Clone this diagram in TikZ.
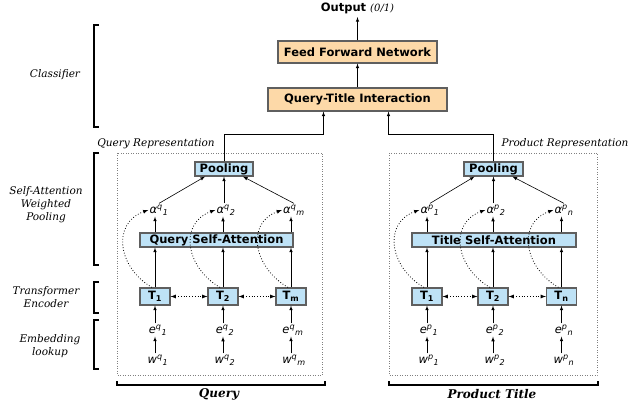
\documentclass[tikz,border=0pt]{standalone}
\usepackage{fontspec}
\setmainfont{DejaVu Serif}
\setsansfont{DejaVu Sans}
\newfontfamily\varfont{DejaVu Sans}
\usetikzlibrary{arrows, calc, fit, positioning}

\definecolor{blockblue}{RGB}{190,226,246}
\definecolor{blockorange}{RGB}{253,217,168}
\definecolor{blockedge}{RGB}{95,95,95}

\tikzset{
  blueblock/.style={draw=blockedge, line width=1.2pt, fill=blockblue, inner sep=0pt,
    font=\sffamily\bfseries\fontsize{11.5}{12}\selectfont},
  orangeblock/.style={draw=blockedge, line width=1.2pt, fill=blockorange, inner sep=0pt,
    font=\sffamily\bfseries\fontsize{11.5}{12}\selectfont},
  var/.style={inner sep=1pt, font=\varfont\itshape\fontsize{11.5}{12}\selectfont},
  sidelabel/.style={align=center, font=\itshape\fontsize{10.5}{13}\selectfont},
  grouplabel/.style={font=\itshape\fontsize{10.5}{12}\selectfont},
  groupbox/.style={draw=gray, dotted, line width=0.5pt},
  bracket/.style={line width=1.4pt},
  attn/.style={->, dotted, line width=0.8pt, looseness=1.3},
}

\newcommand{\vsub}[3]{#1\textsuperscript{#2}\textsubscript{#3}}

\begin{document}
\begin{tikzpicture}[x=1pt, y=-1pt, >=latex, line width=0.6pt]
    \useasboundingbox (0,0) rectangle (629,406);

    % classifier
    \node[orangeblock, minimum width=159pt, minimum height=22pt] (ffn) at (357.5,52) {Feed Forward Network};
    \node[orangeblock, minimum width=179pt, minimum height=23pt] (qti) at (357.5,99.5) {Query-Title Interaction};
    \node (output) at (357.5,8) {\sffamily\bfseries\fontsize{11.5}{12}\selectfont Output \normalfont\itshape\fontsize{10}{11}\selectfont(0/1)};
    \draw[->] (qti) -- (ffn);
    \draw[->] (ffn) -- (output);

    % query side
    \node[blueblock, minimum width=58pt, minimum height=14pt] (qpool) at (224,169) {Pooling};
    \node[blueblock, minimum width=153pt, minimum height=14pt] (qsa) at (216.5,240) {Query Self-Attention};
    \node[blueblock, minimum width=30pt, minimum height=17pt] (qt1) at (155,296.5) {T\textsubscript{1}};
    \node[blueblock, minimum width=30pt, minimum height=17pt] (qt2) at (223,296.5) {T\textsubscript{2}};
    \node[blueblock, minimum width=30pt, minimum height=17pt] (qtm) at (291,296.5) {T\textsubscript{m}};
    \node[var] (qa1) at (159,210) {α\textsuperscript{q}\textsubscript{1}};
    \node[var] (qa2) at (226,210) {α\textsuperscript{q}\textsubscript{2}};
    \node[var] (qam) at (294,210) {α\textsuperscript{q}\textsubscript{m}};
    \node[var] (qe1) at (158,330) {\vsub{e}{q}{1}};
    \node[var] (qe2) at (225,330) {\vsub{e}{q}{2}};
    \node[var] (qem) at (293,330) {\vsub{e}{q}{m}};
    \node[var] (qw1) at (158,360) {\vsub{w}{q}{1}};
    \node[var] (qw2) at (225,360) {\vsub{w}{q}{2}};
    \node[var] (qwm) at (294,360) {\vsub{w}{q}{m}};

    \draw[->] (qw1.north -| qt1) -- (qe1.south -| qt1);
    \draw[->] (qw2.north -| qt2) -- (qe2.south -| qt2);
    \draw[->] (qwm.north -| qtm) -- (qem.south -| qtm);
    \draw[->] (qe1.north -| qt1) -- (qt1);
    \draw[->] (qe2.north -| qt2) -- (qt2);
    \draw[->] (qem.north -| qtm) -- (qtm);
    \draw[->] (qt1) -- (qt1 |- qsa.south);
    \draw[->] (qt2) -- (qt2 |- qsa.south);
    \draw[->] (qtm) -- (qtm |- qsa.south);
    \draw[->] (qt1 |- qsa.north) -- (qa1.south -| qt1);
    \draw[->] (qt2 |- qsa.north) -- (qa2.south -| qt2);
    \draw[->] (qtm |- qsa.north) -- (qam.south -| qtm);
    \draw[->] (qa1.north) -- ([xshift=-19pt]qpool.south);
    \draw[->] (qa2.north -| qpool) -- (qpool);
    \draw[->] (qam.north) -- ([xshift=19pt]qpool.south);
    \draw[<->, dotted, line width=0.8pt] (qt1) -- (qt2);
    \draw[<->, dotted, line width=0.8pt] (qt2) -- (qtm);
    \draw[attn] ([xshift=-3pt]qt1.north) to[out=150, in=200] (qa1.west);
    \draw[attn] ([xshift=-3pt]qt2.north) to[out=150, in=200] (qa2.west);
    \draw[attn] ([xshift=-3pt]qtm.north) to[out=150, in=200] (qam.west);

    % product side
    \node[blueblock, minimum width=59pt, minimum height=14pt] (ppool) at (493.5,169) {Pooling};
    \node[blueblock, minimum width=164pt, minimum height=14pt] (psa) at (494,240) {Title Self-Attention};
    \node[blueblock, minimum width=30pt, minimum height=17pt] (pt1) at (427,296.5) {T\textsubscript{1}};
    \node[blueblock, minimum width=30pt, minimum height=17pt] (pt2) at (493,296.5) {T\textsubscript{2}};
    \node[blueblock, minimum width=30pt, minimum height=17pt] (ptn) at (561.5,296.5) {T\textsubscript{n}};
    \node[var] (pa1) at (430,210) {α\textsuperscript{p}\textsubscript{1}};
    \node[var] (pa2) at (496,210) {α\textsuperscript{p}\textsubscript{2}};
    \node[var] (pan) at (564,210) {α\textsuperscript{p}\textsubscript{n}};
    \node[var] (pe1) at (429,330) {\vsub{e}{p}{1}};
    \node[var] (pe2) at (495,330) {\vsub{e}{p}{2}};
    \node[var] (pen) at (564,330) {\vsub{e}{p}{n}};
    \node[var] (pw1) at (429,360) {\vsub{w}{p}{1}};
    \node[var] (pw2) at (495,360) {\vsub{w}{p}{2}};
    \node[var] (pwn) at (564,360) {\vsub{w}{p}{n}};

    \draw[->] (pw1.north -| pt1) -- (pe1.south -| pt1);
    \draw[->] (pw2.north -| pt2) -- (pe2.south -| pt2);
    \draw[->] (pwn.north -| ptn) -- (pen.south -| ptn);
    \draw[->] (pe1.north -| pt1) -- (pt1);
    \draw[->] (pe2.north -| pt2) -- (pt2);
    \draw[->] (pen.north -| ptn) -- (ptn);
    \draw[->] (pt1) -- (pt1 |- psa.south);
    \draw[->] (pt2) -- (pt2 |- psa.south);
    \draw[->] (ptn) -- (ptn |- psa.south);
    \draw[->] (pt1 |- psa.north) -- (pa1.south -| pt1);
    \draw[->] (pt2 |- psa.north) -- (pa2.south -| pt2);
    \draw[->] (ptn |- psa.north) -- (pan.south -| ptn);
    \draw[->] (pa1.north) -- ([xshift=-19pt]ppool.south);
    \draw[->] (pa2.north -| ppool) -- (ppool);
    \draw[->] (pan.north) -- ([xshift=19pt]ppool.south);
    \draw[<->, dotted, line width=0.8pt] (pt1) -- (pt2);
    \draw[<->, dotted, line width=0.8pt] (pt2) -- (ptn);
    \draw[attn] ([xshift=-3pt]pt1.north) to[out=150, in=200] (pa1.west);
    \draw[attn] ([xshift=-3pt]pt2.north) to[out=150, in=200] (pa2.west);
    \draw[attn] ([xshift=-3pt]ptn.north) to[out=150, in=200] (pan.west);

    % representations into the interaction
    \draw[->] (qpool.north) |- ([xshift=-34pt, yshift=-23pt]qti.south) -- ([xshift=-34pt]qti.south);
    \draw[->] (ppool.north) |- ([xshift=31pt, yshift=-23pt]qti.south) -- ([xshift=31pt]qti.south);

    % groups
    \draw[groupbox] (117,153) rectangle (322,375);
    \draw[groupbox] (389,153) rectangle (597,375);
    \node[grouplabel] (qrep-label) at (156,144) {Query Representation};
    \node[grouplabel] (prep-label) at (565,144) {Product Representation};

    \draw[bracket] (117,381) -- (117,385) -- (325,385) -- (325,381);
    \draw[bracket] (389,381) -- (389,385) -- (598,385) -- (598,381);
    \node[font=\bfseries\itshape\fontsize{12}{13}\selectfont] (query-label) at (219,394) {Query};
    \node[font=\bfseries\itshape\fontsize{12}{13}\selectfont] (title-label) at (492,394) {Product Title};

    % left brackets
    \draw[bracket] (99,25) -- (94,25) -- (94,127) -- (99,127);
    \draw[bracket] (99,153) -- (94,153) -- (94,265) -- (99,265);
    \draw[bracket] (99,282) -- (94,282) -- (94,313) -- (99,313);
    \draw[bracket] (99,320) -- (94,320) -- (94,369) -- (99,369);
    \node[sidelabel] (classifier) at (55,75) {Classifier};
    \node[sidelabel] (pooling-label) at (46,205) {Self-Attention\\Weighted\\Pooling};
    \node[sidelabel] (encoder-label) at (46,297) {Transformer\\Encoder};
    \node[sidelabel] (embed-label) at (50,346) {Embedding\\lookup};
\end{tikzpicture}
\end{document}
